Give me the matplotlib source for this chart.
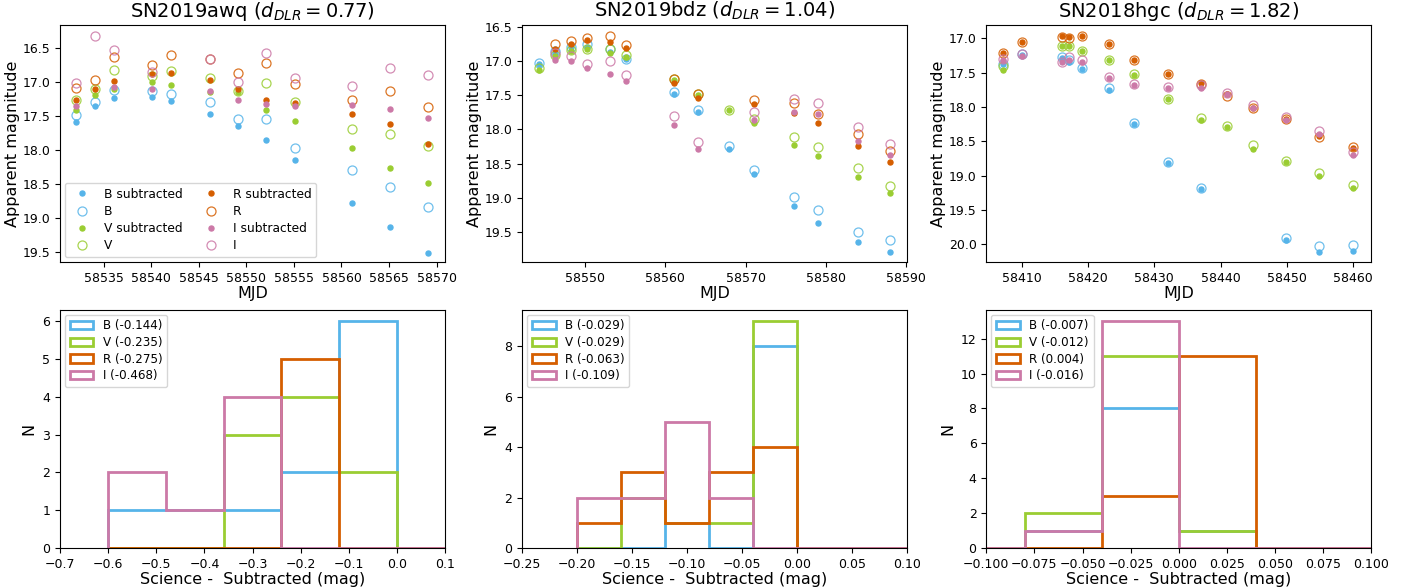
import numpy as np
import matplotlib
matplotlib.use("Agg")
import matplotlib.pyplot as plt
from matplotlib.ticker import MultipleLocator

nan = np.nan

# Band colours
band_names = ["B", "V", "R", "I"]
band_colors = {"B": "#56B4E9", "V": "#9ACD32", "R": "#D55E00", "I": "#CC79A7"}

# ---- SN2019awq light curves (science and subtracted magnitudes) ----
awq_mjd = [58532.1, 58534.1, 58536.1, 58540.1, 58542.1, 58546.15, 58549.1, 58552.1, 58555.15, 58561.1, 58565.1, 58569.1]
awq_B_sub = [17.59, 17.36, 17.24, 17.22, 17.28, 17.48, 17.65, 17.86, 18.15, 18.78, 19.13, 19.51]
awq_B = [17.49, 17.30, 17.12, 17.14, 17.18, 17.30, 17.55, 17.54, 17.97, 18.30, 18.55, 18.84]
awq_V_sub = [17.42, 17.20, 17.10, 17.01, 17.04, 17.15, 17.15, 17.42, 17.58, 17.97, 18.26, 18.48]
awq_V = [17.27, 17.11, 16.82, 16.92, 16.84, 16.95, 17.14, 17.02, 17.29, 17.70, 17.77, 17.95]
awq_R_sub = [17.26, 17.10, 16.99, 16.88, 16.87, 16.97, 17.11, 17.26, 17.31, 17.47, 17.62, 17.92]
awq_R = [17.09, 16.97, 16.63, 16.75, 16.60, 16.67, 16.87, 16.72, 17.03, 17.26, 17.14, 17.37]
awq_I_sub = [17.35, nan, 17.07, 17.10, nan, 17.13, 17.26, 17.33, 17.36, 17.34, 17.40, 17.53]
awq_I = [17.02, 16.33, 16.53, 16.85, nan, 16.67, 17.00, 16.58, 16.95, 17.06, 16.80, 16.90]

# ---- SN2019bdz ----
bdz_mjd = [58544.2, 58546.2, 58548.2, 58550.2, 58553.1, 58555.1, 58561.1, 58564.1, 58568.0, 58571.1, 58576.1, 58579.1, 58584.1, 58588.0]
bdz_B_sub = [17.05, 16.89, 16.80, 16.79, 16.87, 16.97, 17.48, 17.75, 18.29, 18.65, 19.12, 19.36, 19.65, 19.79]
bdz_B = [17.03, 16.86, 16.79, 16.76, 16.83, 16.97, 17.45, 17.72, 18.24, 18.59, 18.99, 19.17, 19.50, 19.61]
bdz_V_sub = [17.13, 16.93, 16.85, 16.83, 16.88, 16.95, 17.28, 17.50, 17.72, 17.90, 18.23, 18.39, 18.70, 18.93]
bdz_V = [17.11, 16.92, 16.84, 16.82, 16.82, 16.91, 17.27, 17.49, 17.71, 17.85, 18.11, 18.26, 18.56, 18.83]
bdz_R_sub = [nan, 16.83, 16.75, 16.70, 16.72, 16.81, 17.32, 17.54, nan, 17.63, 17.76, 17.91, 18.24, 18.47]
bdz_R = [nan, 16.75, 16.71, 16.66, 16.63, 16.77, 17.26, 17.49, nan, 17.57, 17.62, 17.78, 18.07, 18.32]
bdz_I_sub = [nan, 16.98, 17.00, 17.11, 17.19, 17.30, 17.93, 18.29, nan, 17.86, 17.74, 17.78, 18.17, 18.37]
bdz_I = [nan, 16.88, 16.93, 17.04, 17.00, 17.21, 17.81, 18.18, nan, 17.75, 17.56, 17.61, 17.97, 18.21]

# ---- SN2018hgc ----
hgc_mjd = [58407.2, 58410.1, 58416.0, 58417.2, 58419.1, 58423.1, 58427.0, 58432.0, 58437.0, 58440.9, 58444.9, 58449.9, 58454.9, 58459.9]
hgc_B_sub = [17.38, 17.24, 17.29, 17.35, 17.44, 17.75, 18.24, 18.81, 19.19, nan, nan, 19.94, 20.11, 20.10]
hgc_B = [17.37, 17.23, 17.27, 17.32, 17.43, 17.73, 18.23, 18.80, 19.18, nan, nan, 19.90, 20.03, 20.01]
hgc_V_sub = [17.46, nan, 17.11, 17.11, 17.19, 17.31, 17.53, 17.89, 18.19, 18.29, 18.61, 18.80, 19.00, 19.18]
hgc_V = [17.41, nan, 17.11, 17.11, 17.19, 17.31, 17.52, 17.88, 18.16, 18.28, 18.56, 18.78, 18.96, 19.13]
hgc_R_sub = [17.21, 17.05, 16.97, 16.98, 16.96, 17.08, 17.31, 17.52, 17.65, 17.81, 18.01, 18.18, 18.42, 18.59]
hgc_R = [17.21, 17.05, 16.98, 17.00, 16.97, 17.08, 17.31, 17.52, 17.67, 17.84, 18.02, 18.18, 18.43, 18.58]
hgc_I_sub = [17.31, 17.25, 17.35, 17.31, 17.34, 17.58, 17.68, 17.72, 17.72, 17.81, 18.01, 18.19, 18.39, 18.70]
hgc_I = [17.30, 17.23, 17.35, 17.27, 17.32, 17.57, 17.67, 17.71, 17.68, 17.79, 17.97, 18.15, 18.35, 18.65]

# ---- Histograms of science - subtracted (counts per bin) ----
awq_edges = [-0.6, -0.48, -0.36, -0.24, -0.12, 0.0, 0.12]
awq_counts = {"B": [1, 1, 1, 2, 6, 0], "V": [0, 0, 3, 4, 2, 0],
              "R": [0, 0, 0, 5, 0, 0], "I": [2, 1, 4, 0, 0, 0]}
awq_means = {"B": "-0.144", "V": "-0.235", "R": "-0.275", "I": "-0.468"}

bdz_edges = [-0.2, -0.16, -0.12, -0.08, -0.04, 0.0, 0.04, 0.08, 0.12]
bdz_counts = {"B": [0, 0, 1, 0, 8, 0, 0, 0], "V": [0, 2, 1, 1, 9, 0, 0, 0],
              "R": [1, 3, 1, 3, 4, 0, 0, 0], "I": [2, 2, 5, 2, 0, 0, 0, 0]}
bdz_means = {"B": "-0.029", "V": "-0.029", "R": "-0.063", "I": "-0.109"}

hgc_edges = [-0.12, -0.08, -0.04, 0.0, 0.04, 0.08, 0.12]
hgc_counts = {"B": [0, 1, 8, 1, 0, 0], "V": [0, 2, 11, 1, 0, 0],
              "R": [0, 0, 3, 11, 0, 0], "I": [0, 1, 13, 0, 0, 0]}
hgc_means = {"B": "-0.007", "V": "-0.012", "R": "0.004", "I": "-0.016"}

panels = [
    dict(title=r"SN2019awq ($d_{DLR}=0.77$)", mjd=awq_mjd,
         lc={"B": (awq_B_sub, awq_B), "V": (awq_V_sub, awq_V), "R": (awq_R_sub, awq_R), "I": (awq_I_sub, awq_I)},
         xlim=(58530.4, 58570.9), ylim=(19.65, 16.17), xstep=5,
         edges=awq_edges, counts=awq_counts, means=awq_means, hxlim=(-0.7, 0.1)),
    dict(title=r"SN2019bdz ($d_{DLR}=1.04$)", mjd=bdz_mjd,
         lc={"B": (bdz_B_sub, bdz_B), "V": (bdz_V_sub, bdz_V), "R": (bdz_R_sub, bdz_R), "I": (bdz_I_sub, bdz_I)},
         xlim=(58542.1, 58590.2), ylim=(19.94, 16.48), xstep=10,
         edges=bdz_edges, counts=bdz_counts, means=bdz_means, hxlim=(-0.25, 0.1)),
    dict(title=r"SN2018hgc ($d_{DLR}=1.82$)", mjd=hgc_mjd,
         lc={"B": (hgc_B_sub, hgc_B), "V": (hgc_V_sub, hgc_V), "R": (hgc_R_sub, hgc_R), "I": (hgc_I_sub, hgc_I)},
         xlim=(58404.65, 58462.75), ylim=(20.26, 16.81), xstep=10,
         edges=hgc_edges, counts=hgc_counts, means=hgc_means, hxlim=(-0.1, 0.1)),
]

fig = plt.figure(figsize=(14.11, 5.88), dpi=100)
lefts = [0.0425, 0.370, 0.699]
width = 0.273

for i, p in enumerate(panels):
    # light curve panel
    ax = fig.add_axes([lefts[i], 0.554, width, 0.403])
    for b in band_names:
        sub, sci = p["lc"][b]
        ax.plot(p["mjd"], sub, "o", ls="none", ms=3.6, color=band_colors[b],
                label=f"{b} subtracted")
        ax.plot(p["mjd"], sci, "o", ls="none", ms=6.5, mfc="none", mew=0.9,
                color=band_colors[b], alpha=0.85, label=b)
    ax.set_xlim(*p["xlim"])
    ax.set_ylim(*p["ylim"])
    ax.xaxis.set_major_locator(MultipleLocator(p["xstep"]))
    ax.yaxis.set_major_locator(MultipleLocator(0.5))
    ax.set_title(p["title"], fontsize=14)
    ax.set_xlabel("MJD", fontsize=11.5, labelpad=1)
    ax.set_ylabel("Apparent magnitude", fontsize=11.5, labelpad=2)
    ax.tick_params(labelsize=9)
    if i == 0:
        ax.legend(loc="lower left", ncol=2, fontsize=8.8, columnspacing=1.3,
                  handletextpad=0.8, borderaxespad=0.4, labelspacing=0.35)

    # histogram panel
    hx = fig.add_axes([lefts[i], 0.068, width, 0.405])
    edges = np.array(p["edges"])
    centers = 0.5 * (edges[:-1] + edges[1:])
    for b in band_names:
        hx.hist(centers, bins=edges, weights=p["counts"][b], histtype="step",
                lw=2, color=band_colors[b], label=f"{b} ({p['means'][b]})")
    hx.set_xlim(*p["hxlim"])
    hx.set_xlabel("Science -  Subtracted (mag)", fontsize=11.5, labelpad=1)
    hx.set_ylabel("N", fontsize=11.5)
    hx.tick_params(labelsize=9)
    hx.legend(loc="upper left", fontsize=8.6, handlelength=2.0, borderaxespad=0.4,
              labelspacing=0.3)

fig.savefig("out.png", dpi=100)
